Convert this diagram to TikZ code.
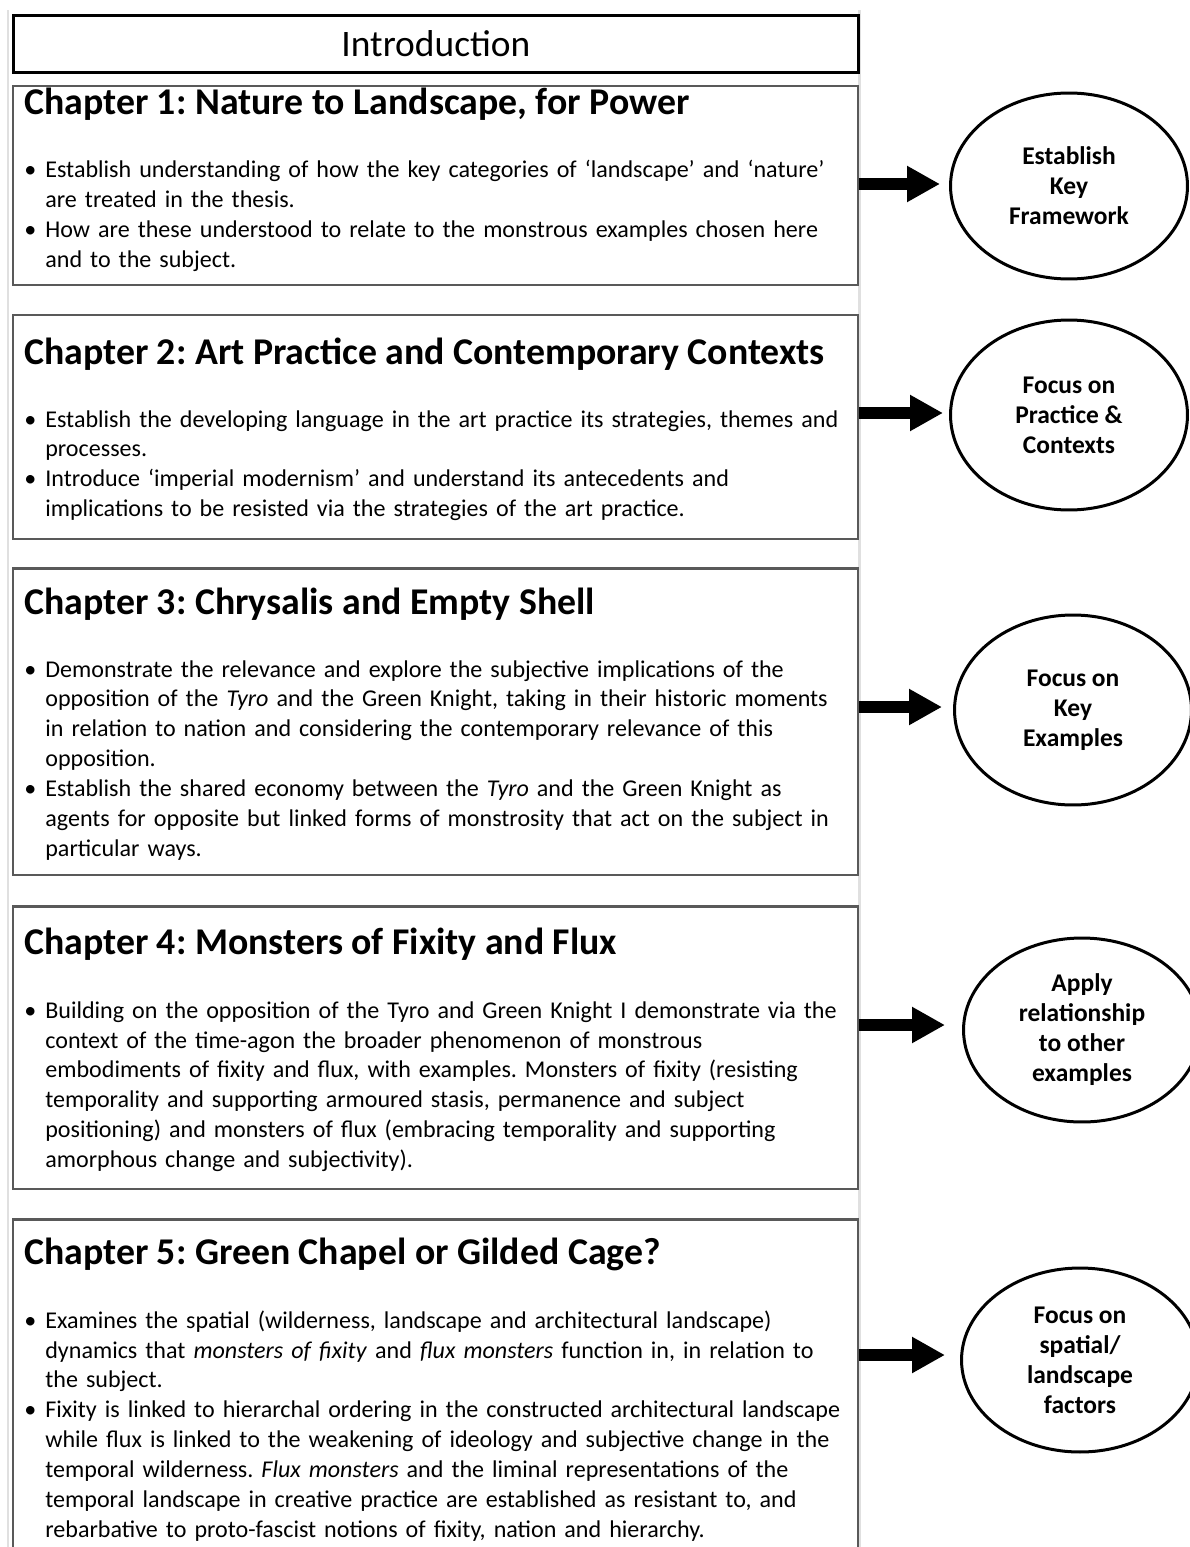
\documentclass[tikz,border=0pt]{standalone}
\usepackage{fontspec}
\setmainfont{Carlito}
\usepackage{tikz}
\usetikzlibrary{arrows.meta,shapes.geometric,positioning}
\frenchspacing
\tikzset{
    chapbox/.style={draw=black!65,line width=0.05cm,fill=white,anchor=north west,
        inner sep=0,minimum width=16.9cm},
    introbox/.style={draw=black,line width=0.06cm,fill=white,anchor=north west,
        inner sep=0,minimum width=16.9cm,minimum height=1.14cm,
        font=\fontsize{21.3}{25}\selectfont},
    chaptitle/.style={anchor=base west,inner sep=0,font=\fontsize{21.5}{25}\selectfont\bfseries},
    chapbody/.style={anchor=base west,inner sep=0,text width=16.75cm,align=left,
        font=\fontsize{13.7}{17.07}\selectfont},
    goal/.style={ellipse,draw=black,line width=0.06cm,inner sep=0,align=center,
        minimum width=4.74cm,minimum height=3.72cm,
        font=\fontsize{14.5}{17.07}\selectfont\bfseries},
    fatarrow/.style={line width=0.24cm,-{Triangle[length=0.66cm,width=0.68cm]}},
    bgline/.style={draw=black!12,line width=0.06cm}
}
\newcommand\bitem[1]{\noindent\makebox[0.42cm][l]{\textbullet}%
    \parbox[t]{16.3cm}{\raggedright #1\strut}\par\prevdepth=\dp\strutbox}

\begin{document}
\begin{tikzpicture}[x=0.02cm,y=-0.02cm]
    \useasboundingbox (0,0) rectangle (1189,1547);
    \draw[bgline] (8,10) -- (8,1547);
    \draw[bgline] (859,10) -- (859,1547);

    \node[introbox] (intro) at (12,14) {Introduction};

    \node[chapbox,minimum height=3.98cm] (ch1) at (12,85) {};
    \node[chapbox,minimum height=4.48cm] (ch2) at (12,314) {};
    \node[chapbox,minimum height=6.14cm] (ch3) at (12,567) {};
    \node[chapbox,minimum height=5.66cm] (ch4) at (12,905) {};
    \node[chapbox,minimum height=7.10cm] (ch5) at (12,1218) {};

    \node[chaptitle] (t1) at (24,115) {Chapter 1: Nature to Landscape, for Power};
    \node[chapbody] (b1) at (24,178) {%
        \bitem{Establish understanding of how the key categories of ‘landscape’ and ‘nature’\newline
            are treated in the thesis.}
        \bitem{How are these understood to relate to the monstrous examples chosen here\newline
            and to the subject.}};

    \node[chaptitle] (t2) at (24,364) {Chapter 2: Art Practice and Contemporary Contexts};
    \node[chapbody] (b2) at (24,427) {%
        \bitem{Establish the developing language in the art practice its strategies, themes and\newline
            processes.}
        \bitem{Introduce ‘imperial modernism’ and understand its antecedents and\newline
            implications to be resisted via the strategies of the art practice.}};

    \node[chaptitle] (t3) at (24,614) {Chapter 3: Chrysalis and Empty Shell};
    \node[chapbody] (b3) at (24,677) {%
        \bitem{Demonstrate the relevance and explore the subjective implications of the\newline
            opposition of the \textit{Tyro} and the Green Knight, taking in their historic moments\newline
            in relation to nation and considering the contemporary relevance of this\newline
            opposition.}
        \bitem{Establish the shared economy between the \textit{Tyro} and the Green Knight as\newline
            agents for opposite but linked forms of monstrosity that act on the subject in\newline
            particular ways.}};

    \node[chaptitle] (t4) at (24,954) {Chapter 4: Monsters of Fixity and Flux};
    \node[chapbody] (b4) at (24,1018) {%
        \bitem{Building on the opposition of the Tyro and Green Knight I demonstrate via the\newline
            context of the time-agon the broader phenomenon of monstrous\newline
            embodiments of fixity and flux, with examples. Monsters of fixity (resisting\newline
            temporality and supporting armoured stasis, permanence and subject\newline
            positioning) and monsters of flux (embracing temporality and supporting\newline
            amorphous change and subjectivity).}};

    \node[chaptitle] (t5) at (24,1264) {Chapter 5: Green Chapel or Gilded Cage?};
    \node[chapbody] (b5) at (24,1328) {%
        \bitem{Examines the spatial (wilderness, landscape and architectural landscape)\newline
            dynamics that \textit{monsters of fixity} and \textit{flux monsters} function in, in relation to\newline
            the subject.}
        \bitem{Fixity is linked to hierarchal ordering in the constructed architectural landscape\newline
            while flux is linked to the weakening of ideology and subjective change in the\newline
            temporal wilderness. \textit{Flux monsters} and the liminal representations of the\newline
            temporal landscape in creative practice are established as resistant to, and\newline
            rebarbative to proto-fascist notions of fixity, nation and hierarchy.}};

    \node[goal] (g1) at (1069,186) {Establish\\Key\\Framework};
    \node[goal,minimum height=3.8cm] (g2) at (1069,415) {Focus on\\Practice \&\\Contexts};
    \node[goal,minimum height=3.8cm] (g3) at (1073,710) {Focus on\\Key\\Examples};
    \node[goal,minimum height=3.68cm] (g4) at (1082,1030) {Apply\\relationship\\to other\\examples};
    \node[goal,minimum height=3.68cm] (g5) at (1080,1360) {Focus on\\spatial/\\landscape\\factors};

    \coordinate (tip1) at (940,184);
    \coordinate (tip2) at (943,413);
    \coordinate (tip3) at (942,707);
    \coordinate (tip4) at (945,1025);
    \coordinate (tip5) at (945,1355);
    \foreach \i in {1,...,5}
        \draw[fatarrow] (ch\i.east |- tip\i) -- (tip\i);
\end{tikzpicture}
\end{document}
